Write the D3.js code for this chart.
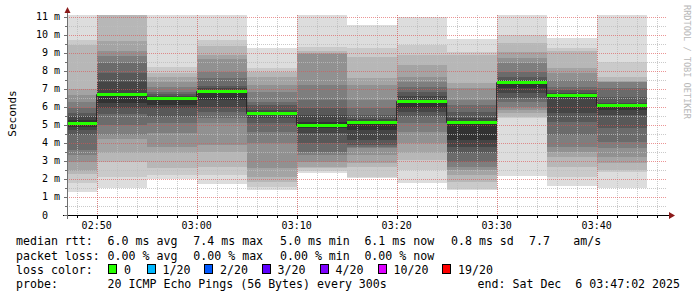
<!DOCTYPE html>
<html>
<head>
<meta charset="utf-8">
<script src="https://cdn.jsdelivr.net/npm/d3@7"></script>
<style>
  body { margin: 0; background: #fff; }
  text { font-family: "DejaVu Sans Mono", monospace; }
</style>
</head>
<body>
<div id="chart"></div>
<script>
// end time of each 5 minute step
const stepEnds = ["02:50", "02:55", "03:00", "03:05", "03:10", "03:15",
                  "03:20", "03:25", "03:30", "03:35", "03:40", "03:45"]

// median rtt per step (ms)
const medianRtt = [5.12, 6.71, 6.51, 6.90, 5.68, 4.99, 5.18, 6.33, 5.14, 7.40, 6.66, 6.08]

// 20 sorted pings per step (ms), drawn as smoke
const smokePings = [
    [1.25, 1.78, 2.30, 2.42, 2.95, 3.32, 3.62, 4.44, 4.72, 4.90, 5.25, 5.50, 5.65, 5.92, 6.28, 6.65, 7.02, 9.42, 9.70, 11.6],
    [1.48, 2.13, 2.96, 3.46, 4.20, 4.44, 4.99, 5.60, 5.92, 6.20, 6.72, 7.40, 7.90, 8.45, 8.82, 9.12, 9.67, 11.4, 11.6, 11.9],
    [2.00, 2.22, 2.59, 3.42, 3.79, 4.53, 5.09, 5.46, 5.92, 6.10, 6.53, 6.62, 6.72, 6.84, 7.12, 7.40, 7.67, 7.90, 8.23, 11.5],
    [1.72, 2.22, 2.68, 3.51, 3.88, 5.09, 5.37, 5.73, 6.01, 6.40, 6.92, 7.05, 7.16, 7.58, 7.95, 8.64, 8.88, 9.38, 9.71, 11.5],
    [1.39, 1.57, 1.85, 2.13, 2.59, 3.98, 4.60, 5.09, 5.40, 5.55, 5.70, 5.85, 6.10, 6.29, 6.81, 7.21, 7.67, 7.95, 8.14, 9.25],
    [2.35, 2.45, 2.59, 2.68, 2.96, 3.33, 3.51, 3.98, 4.57, 4.81, 5.18, 5.55, 5.92, 6.38, 7.21, 8.93, 9.00, 9.10, 9.34, 11.5],
    [2.04, 2.10, 2.68, 2.87, 3.33, 3.70, 3.80, 3.88, 4.16, 4.72, 5.22, 5.35, 5.55, 5.92, 6.38, 7.21, 7.58, 8.75, 9.25, 10.54],
    [1.76, 2.50, 3.05, 3.42, 3.98, 4.62, 5.09, 5.46, 5.70, 5.95, 6.38, 6.60, 6.80, 7.09, 7.40, 7.67, 8.32, 8.88, 9.43, 10.97],
    [1.39, 1.42, 1.85, 2.22, 2.50, 2.68, 2.96, 3.42, 3.79, 4.16, 5.20, 5.40, 5.70, 6.10, 6.38, 7.03, 7.31, 8.88, 9.06, 9.77],
    [2.18, 5.37, 5.46, 5.64, 5.83, 6.01, 6.29, 6.47, 6.75, 7.03, 7.42, 7.50, 7.67, 7.95, 8.42, 8.70, 9.06, 9.53, 9.99, 11.5],
    [1.61, 2.13, 2.68, 3.24, 3.51, 3.79, 4.44, 5.18, 5.64, 6.50, 6.68, 6.78, 6.92, 7.09, 7.49, 7.86, 8.14, 9.10, 9.25, 9.85],
    [1.48, 2.40, 2.50, 2.87, 3.24, 3.70, 4.07, 4.81, 5.55, 5.83, 6.10, 6.20, 6.56, 7.03, 7.36, 7.40, 7.45, 7.67, 8.51, 11.6]
]

const yTicks = d3.range(0, 12)
const lossLabels = ["0", "1/20", "2/20", "3/20", "4/20", "10/20", "19/20"]
const lossColors = ["#26ff00", "#00b8ff", "#0059ff", "#5e00ff", "#7e00ff", "#dd00ff", "#ff0000"]

const rttStats = ["6.0 ms avg", "7.4 ms max", "5.0 ms min", "6.1 ms now", "0.8 ms sd", "7.7", "am/s"]
const lossStats = ["0.00 % avg", "0.00 % max", "0.00 % min", "0.00 % now"]
const probeText = "20 ICMP Echo Pings (56 Bytes) every 300s"
const endText = "end: Sat Dec  6 03:47:02 2025"

const W = 697, H = 297
const margin = { top: 15, left: 67, bottom: 215, right: 667 }

const toTime = s => new Date(Date.UTC(2025, 11, 6, +s.slice(0, 2), +s.slice(3, 5)))
const tStart = new Date(Date.UTC(2025, 11, 6, 2, 47, 2)),
    tEnd = new Date(Date.UTC(2025, 11, 6, 3, 47, 2))

let x = d3.scaleUtc().domain([tStart, tEnd]).range([margin.left, margin.right])
let y = d3.scaleLinear().domain([0, 11.1]).range([margin.bottom, margin.top])

let svg = d3.select("#chart").append("svg")
    .attr("width", W).attr("height", H)
    .style("display", "block")

svg.append("clipPath").attr("id", "plot-clip")
    .append("rect")
    .attr("x", margin.left).attr("y", margin.top)
    .attr("width", margin.right - margin.left)
    .attr("height", margin.bottom - margin.top)

let steps = stepEnds.map((s, i) => {
    let t1 = toTime(s), t0 = d3.utcMinute.offset(t1, -5)
    if (t0 < tStart) t0 = tStart
    return { t0, t1, median: medianRtt[i], pings: smokePings[i] }
})

// smoke: band k spans ping k .. ping (21-k), darker toward the middle
const half = 10
let smoke = svg.append("g").attr("clip-path", "url(#plot-clip)")
for (let k = 1; k <= half; k++) {
    let c = Math.floor(190 / half * (half - k)) + 50
    smoke.selectAll(".band" + k)
        .data(steps)
        .enter().append("rect")
        .attr("x", d => x(d.t0))
        .attr("width", d => x(d.t1) - x(d.t0))
        .attr("y", d => y(d.pings[20 - k]))
        .attr("height", d => y(d.pings[k - 1]) - y(d.pings[20 - k]))
        .attr("fill", d3.rgb(c, c, c))
        .attr("shape-rendering", "crispEdges")
}

// grid
let grid = svg.append("g").attr("shape-rendering", "crispEdges")
let minorT = x.ticks(d3.utcMinute.every(2)),
    majorT = x.ticks(d3.utcMinute.every(10))
let minorY = d3.range(0.5, 11.1, 1),
    majorY = yTicks.slice(1)

grid.selectAll(".vminor").data(minorT).enter().append("line")
    .attr("x1", d => Math.round(x(d)) + 0.5).attr("x2", d => Math.round(x(d)) + 0.5)
    .attr("y1", margin.top).attr("y2", margin.bottom)
    .attr("stroke", "#bdbdbd").attr("stroke-dasharray", "1,1").attr("stroke-opacity", 0.8)
grid.selectAll(".hminor").data(minorY).enter().append("line")
    .attr("x1", margin.left).attr("x2", margin.right)
    .attr("y1", d => Math.round(y(d)) + 0.5).attr("y2", d => Math.round(y(d)) + 0.5)
    .attr("stroke", "#bdbdbd").attr("stroke-dasharray", "1,1").attr("stroke-opacity", 0.8)
grid.selectAll(".vmajor").data(majorT).enter().append("line")
    .attr("x1", d => Math.round(x(d)) + 0.5).attr("x2", d => Math.round(x(d)) + 0.5)
    .attr("y1", margin.top).attr("y2", margin.bottom)
    .attr("stroke", "#e05050").attr("stroke-dasharray", "1,1").attr("stroke-opacity", 0.6)
grid.selectAll(".hmajor").data(majorY).enter().append("line")
    .attr("x1", margin.left).attr("x2", margin.right)
    .attr("y1", d => Math.round(y(d)) + 0.5).attr("y2", d => Math.round(y(d)) + 0.5)
    .attr("stroke", "#e05050").attr("stroke-dasharray", "1,1").attr("stroke-opacity", 0.6)

// median step line
let medPts = steps.map(d => ({ t: d.t0, v: d.median }))
medPts.push({ t: steps[steps.length - 1].t1, v: steps[steps.length - 1].median })
svg.append("path")
    .datum(medPts)
    .attr("fill", "none").attr("stroke", "#202020").attr("stroke-width", 1)
    .attr("d", d3.line().x(d => x(d.t)).y(d => Math.round(y(d.v)) + 0.5).curve(d3.curveStepAfter))

// median with loss colour (no loss -> green)
svg.append("g").selectAll("rect")
    .data(steps)
    .enter().append("rect")
    .attr("x", d => x(d.t0))
    .attr("width", d => x(d.t1) - x(d.t0))
    .attr("y", d => Math.round(y(d.median)) - 1)
    .attr("height", 3)
    .attr("fill", lossColors[0])
    .attr("shape-rendering", "crispEdges")

// axes
let axes = svg.append("g").attr("shape-rendering", "crispEdges")
axes.append("line")
    .attr("x1", 63).attr("x2", 669).attr("y1", 215.5).attr("y2", 215.5)
    .attr("stroke", "#000")
axes.append("line")
    .attr("x1", 67.5).attr("x2", 67.5).attr("y1", 219).attr("y2", 10)
    .attr("stroke", "#707070")
axes.selectAll(".ytick").data(d3.range(0, 11.1, 0.5)).enter().append("line")
    .attr("x1", d => d % 1 === 0 ? 64 : 65).attr("x2", 67)
    .attr("y1", d => Math.round(y(d)) + 0.5).attr("y2", d => Math.round(y(d)) + 0.5)
    .attr("stroke", "#707070")
axes.selectAll(".xtick").data(minorT).enter().append("line")
    .attr("x1", d => Math.round(x(d)) + 0.5).attr("x2", d => Math.round(x(d)) + 0.5)
    .attr("y1", 216).attr("y2", d => d.getUTCMinutes() % 10 === 0 ? 219 : 218)
    .attr("stroke", "#000")

// arrows
svg.append("path").attr("d", "M669,212 L675,215.5 L669,219 Z").attr("fill", "#8b1a1a")
svg.append("path").attr("d", "M64.5,13 L67.5,7 L70.5,13 Z").attr("fill", "#8b1a1a")

// y labels
let yl = svg.append("g").attr("font-size", 10).attr("fill", "#000")
yl.selectAll(".num").data(yTicks).enter().append("text")
    .attr("x", 48).attr("y", d => y(d) + 3.5)
    .attr("text-anchor", "end")
    .text(d => d)
yl.selectAll(".unit").data(yTicks.slice(1)).enter().append("text")
    .attr("x", 54).attr("y", d => y(d) + 3.5)
    .text("m")

// x labels
svg.append("g").attr("font-size", 10)
    .selectAll("text").data(majorT).enter().append("text")
    .attr("x", d => x(d)).attr("y", 228.5)
    .attr("text-anchor", "middle")
    .text(d => d3.utcFormat("%H:%M")(d))

svg.append("text")
    .attr("transform", "translate(15.5,113.5) rotate(-90)")
    .attr("text-anchor", "middle").attr("font-size", 11)
    .text("Seconds")

svg.append("text")
    .attr("transform", "translate(684,5) rotate(90)")
    .attr("font-size", 8.6).attr("fill", "#b8b8b8")
    .text("RRDTOOL / TOBI OETIKER")

// legend
let leg = svg.append("g").attr("font-size", 11.6).attr("fill", "#000")
const statX = [107.6, 193.3, 280, 364.4, 451, 529, 573.3]
leg.append("text").attr("x", 16).attr("y", 245).text("median rtt:")
rttStats.forEach((s, i) => leg.append("text").attr("x", statX[i]).attr("y", 245).text(s))
leg.append("text").attr("x", 16).attr("y", 259.5).text("packet loss:")
lossStats.forEach((s, i) => leg.append("text").attr("x", statX[i]).attr("y", 259.5).text(s))
leg.append("text").attr("x", 16).attr("y", 273.5).text("loss color:")

const boxX = [108.5, 147, 204.5, 262, 320, 378, 442.5]
lossLabels.forEach((s, i) => {
    leg.append("rect")
        .attr("x", boxX[i]).attr("y", 264.5).attr("width", 8).attr("height", 9)
        .attr("fill", lossColors[i]).attr("stroke", "#000").attr("stroke-width", 1)
        .attr("shape-rendering", "crispEdges")
    leg.append("text").attr("x", boxX[i] + 15.5).attr("y", 273.5).text(s)
})

leg.append("text").attr("x", 16).attr("y", 288).text("probe:")
leg.append("text").attr("x", 107.6).attr("y", 288).text(probeText)
leg.append("text").attr("x", 680).attr("y", 288).attr("text-anchor", "end")
    .attr("xml:space", "preserve").style("white-space", "pre")
    .text(endText)
</script>
</body>
</html>
